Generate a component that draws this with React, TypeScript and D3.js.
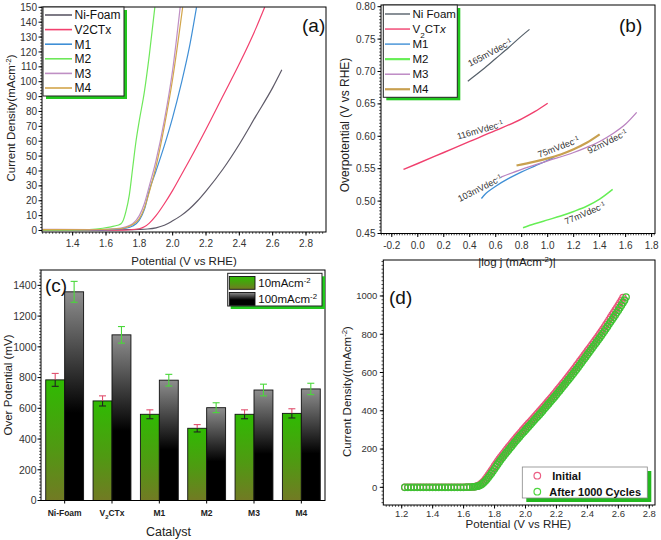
import React from "react";
import * as d3 from "d3";

const FONT = "'Liberation Sans', Arial, Helvetica, sans-serif";

// ---------------- Panel (a): LSV curves ----------------
const A_NAMES = ["Ni-Foam", "V2CTx", "M1", "M2", "M3", "M4"];
const A_COLORS = ["#5e5a68", "#f2406e", "#3f8fd6", "#6ee85a", "#bf8fc4", "#d2a64c"];
const A_NI_X = [1.22, 1.3, 1.4, 1.5, 1.6, 1.7, 1.8, 1.85, 1.9, 1.95, 2.0, 2.05, 2.1, 2.15, 2.2, 2.3, 2.4, 2.5, 2.6, 2.655];
const A_NI_Y = [0.6, 0.4, 0.3, 0.3, 0.4, 0.5, 0.7, 1.0, 1.8, 3.5, 6.5, 10, 14.5, 20, 26.5, 41, 58, 77, 96, 108];
const A_V_X = [1.22, 1.4, 1.6, 1.7, 1.75, 1.8, 1.83, 1.86, 1.9, 1.95, 2.0, 2.05, 2.1, 2.2, 2.3, 2.4, 2.5, 2.552];
const A_V_Y = [0.3, 0.2, 0.2, 0.3, 0.5, 1.2, 2.5, 5, 10, 18, 27, 37, 47, 68, 90, 112, 136, 150];
const A_M1_X = [1.22, 1.5, 1.65, 1.72, 1.76, 1.8, 1.83, 1.86, 1.9, 1.95, 2.0, 2.05, 2.1, 2.143];
const A_M1_Y = [0.5, 0.4, 0.8, 1.5, 3, 7, 14, 27, 40, 57, 76, 98, 123, 150];
const A_M2_X = [1.22, 1.4, 1.5, 1.58, 1.63, 1.67, 1.69, 1.7, 1.72, 1.74, 1.76, 1.78, 1.8, 1.83, 1.86, 1.893];
const A_M2_Y = [0.3, 0.3, 0.6, 1.5, 2.5, 3.5, 4.5, 6, 13, 24, 42, 60, 74, 93, 118, 150];
const A_M3_X = [1.22, 1.5, 1.65, 1.72, 1.76, 1.8, 1.83, 1.86, 1.9, 1.95, 2.0, 2.045];
const A_M3_Y = [0.8, 0.6, 1.2, 2.5, 4.5, 10, 18, 30, 47, 74, 108, 150];
const A_M4_X = [1.22, 1.5, 1.65, 1.72, 1.76, 1.8, 1.83, 1.86, 1.9, 1.95, 2.0, 2.06];
const A_M4_Y = [0.6, 0.5, 1, 2, 4, 8, 15, 26, 43, 70, 102, 150];
const A_X_TICKS = [1.4, 1.6, 1.8, 2.0, 2.2, 2.4, 2.6, 2.8];
const A_Y_TICKS = [0, 10, 20, 30, 40, 50, 60, 70, 80, 90, 100, 110, 120, 130, 140, 150];

// ---------------- Panel (b): Tafel ----------------
const B_NAMES = ["Ni Foam", "V2CTx", "M1", "M2", "M3", "M4"];
const B_COLORS = ["#56606a", "#f0406e", "#3f8fd6", "#66ee55", "#b982c0", "#c8a050"];
const B_NI_X = [0.385, 0.5, 0.6, 0.7, 0.8, 0.86];
const B_NI_Y = [0.685, 0.703, 0.72, 0.737, 0.755, 0.765];
const B_V_X = [-0.11, 0.0, 0.2, 0.4, 0.6, 0.8, 0.9, 1.0];
const B_V_Y = [0.549, 0.558, 0.575, 0.592, 0.609, 0.627, 0.638, 0.651];
const B_M1_X = [0.49, 0.52, 0.55, 0.6, 0.7, 0.8, 0.9, 1.0, 1.05];
const B_M1_Y = [0.504, 0.511, 0.516, 0.523, 0.535, 0.545, 0.554, 0.563, 0.568];
const B_M2_X = [0.81, 0.9, 1.0, 1.1, 1.2, 1.3, 1.4, 1.5];
const B_M2_Y = [0.459, 0.465, 0.471, 0.477, 0.484, 0.492, 0.503, 0.518];
const B_M3_X = [0.64, 0.8, 1.0, 1.2, 1.3, 1.4, 1.5, 1.6, 1.685];
const B_M3_Y = [0.537, 0.549, 0.562, 0.575, 0.583, 0.592, 0.604, 0.619, 0.637];
const B_M4_X = [0.76, 0.9, 1.0, 1.1, 1.2, 1.3, 1.4];
const B_M4_Y = [0.555, 0.561, 0.566, 0.572, 0.58, 0.59, 0.603];
const B_SLOPES = ["165", "116", "75", "92", "103", "77"];
const B_X_TICKS = [-0.2, 0.0, 0.2, 0.4, 0.6, 0.8, 1.0, 1.2, 1.4, 1.6, 1.8];
const B_Y_TICKS = [0.45, 0.5, 0.55, 0.6, 0.65, 0.7, 0.75, 0.8];

// ---------------- Panel (c): bars ----------------
const C_CATS = ["Ni-Foam", "V2CTx", "M1", "M2", "M3", "M4"];
const C_10 = [785, 648, 561, 470, 561, 567];
const C_10_ERR = [42, 33, 29, 24, 29, 30];
const C_100 = [1358, 1078, 783, 604, 719, 726];
const C_100_ERR = [68, 54, 38, 32, 38, 37];
const C_Y_TICKS = [0, 200, 400, 600, 800, 1000, 1200, 1400];

// ---------------- Panel (d): stability ----------------
const D_FLAT_X = [1.22, 1.24, 1.26, 1.28, 1.30, 1.32, 1.34, 1.36, 1.38, 1.40, 1.42, 1.44, 1.46, 1.48, 1.50, 1.52, 1.54, 1.56, 1.58, 1.60, 1.62, 1.64];
const D_FLAT_Y = [0, 0, 0, 0, 0, 0, 0, 0, 0, 0, 0, 0, 0, 0, 0, 0, 0, 0, 0, 0, 1, 1];
const D_RISE_X = [
  1.66, 1.67, 1.68, 1.69, 1.70, 1.71, 1.72, 1.73, 1.74, 1.75,
  1.76, 1.77, 1.78, 1.79, 1.80, 1.81, 1.82, 1.83, 1.84, 1.85,
  1.86, 1.87, 1.88, 1.89, 1.90, 1.91, 1.92, 1.93, 1.94, 1.95,
  1.96, 1.97, 1.98, 1.99, 2.00, 2.01, 2.02, 2.03, 2.04, 2.05,
  2.06, 2.07, 2.08, 2.09, 2.10, 2.11, 2.12, 2.13, 2.14, 2.15,
  2.16, 2.17, 2.18, 2.19, 2.20, 2.21, 2.22, 2.23, 2.24, 2.25,
  2.26, 2.27, 2.28, 2.29, 2.30, 2.31, 2.32, 2.33, 2.34, 2.35,
  2.36, 2.37, 2.38, 2.39, 2.40, 2.41, 2.42, 2.43, 2.44, 2.45,
  2.46, 2.47, 2.48, 2.49, 2.50, 2.51, 2.52, 2.53, 2.54, 2.55,
  2.56, 2.57, 2.58, 2.59, 2.60, 2.61, 2.62, 2.63, 2.64, 2.65,
];
const D_INIT_RISE_Y = [
  2, 3, 5, 7, 11, 17, 24, 32, 42, 53,
  64, 76, 88, 100, 112, 124, 136, 147.5, 158.5, 169,
  179.5, 190, 200, 210, 220, 230, 240, 250, 259.5, 269,
  278.5, 288, 297.5, 307, 316, 325, 334, 343, 352, 361,
  370, 379, 388, 397, 406, 415, 425, 434, 444, 453,
  463, 472, 482, 492, 502, 512, 522, 532, 542, 552,
  562, 572, 583, 593, 604, 614, 625, 636, 647, 658,
  669, 680, 691, 702, 713, 724, 735, 746, 757, 768,
  779, 790, 802, 814, 826, 838, 851, 863, 876, 888,
  901, 913, 926, 938, 951, 964, 977, 992,
];
const D_AFTER_RISE_Y = [
  2, 3, 4, 6, 8, 12, 18, 25, 33, 42,
  52, 63, 74, 85, 97, 109, 121, 132.5, 143.5, 154,
  164.5, 175, 185, 195, 205, 215, 225, 235, 244.5, 254,
  263.5, 273, 282, 291, 300, 309, 318, 327, 336, 345,
  354, 363, 372, 381, 390, 399, 409, 418, 428, 437,
  447, 456, 466, 475, 485, 495, 505, 515, 525, 535,
  545, 555, 565, 575, 586, 596, 607, 617, 628, 639,
  650, 661, 672, 683, 694, 705, 716, 727, 738, 749,
  760, 771, 782, 793, 805, 817, 829, 841, 853, 865,
  877, 889, 901, 913, 926, 939, 952, 965, 978, 994,
];
const D_X_TICKS = [1.2, 1.4, 1.6, 1.8, 2.0, 2.2, 2.4, 2.6, 2.8];
const D_Y_TICKS = [0, 200, 400, 600, 800, 1000];

type Sc = (v: number) => number;

function minorRange(lo: number, hi: number, step: number): number[] {
  const a = Math.ceil(lo / step - 1e-9);
  const b = Math.floor(hi / step + 1e-9);
  return d3.range(a, b + 1).map((i) => +(i * step).toFixed(6));
}

function pairs(xs: number[], ys: number[]): [number, number][] {
  const n = Math.min(xs.length, ys.length);
  return d3.range(n).map((i) => [xs[i], ys[i]] as [number, number]);
}

function LeftAxis(p: { x: number; scale: Sc; ticks: number[]; labels: string[]; minor: number[]; fs: number; off: number }) {
  const { x, scale, ticks, labels, minor, fs, off } = p;
  return (
    <g>
      {minor.map((v, i) => (
        <line key={"m" + i} x1={x} x2={x - 1.8} y1={scale(v)} y2={scale(v)} stroke="#000" strokeWidth={0.7} />
      ))}
      {ticks.map((v, i) => (
        <line key={"t" + i} x1={x} x2={x - 3.5} y1={scale(v)} y2={scale(v)} stroke="#000" strokeWidth={1} />
      ))}
      {ticks.map((v, i) => (
        <text key={"l" + i} x={x - off} y={scale(v)} dy="0.36em" textAnchor="end" fontSize={fs} fill="#333">
          {labels[i]}
        </text>
      ))}
    </g>
  );
}

function BottomAxis(p: { y: number; scale: Sc; ticks: number[]; labels: string[]; minor: number[]; fs: number; off: number }) {
  const { y, scale, ticks, labels, minor, fs, off } = p;
  return (
    <g>
      {minor.map((v, i) => (
        <line key={"m" + i} x1={scale(v)} x2={scale(v)} y1={y} y2={y + 1.8} stroke="#000" strokeWidth={0.7} />
      ))}
      {ticks.map((v, i) => (
        <line key={"t" + i} x1={scale(v)} x2={scale(v)} y1={y} y2={y + 3.5} stroke="#000" strokeWidth={1} />
      ))}
      {ticks.map((v, i) => (
        <text key={"l" + i} x={scale(v)} y={y + off} textAnchor="middle" fontSize={fs} fill="#333">
          {labels[i]}
        </text>
      ))}
    </g>
  );
}

function path(xs: number[], ys: number[], sx: Sc, sy: Sc) {
  return d3
    .line<[number, number]>()
    .x((d) => sx(d[0]))
    .y((d) => sy(d[1]))
    .curve(d3.curveMonotoneX)(pairs(xs, ys)) as string;
}

function V2(props: { italicX?: boolean }) {
  return (
    <>
      V<tspan baselineShift="sub" fontSize="70%">2</tspan>
      <tspan>CT</tspan>
      {props.italicX ? <tspan fontStyle="italic">x</tspan> : <tspan>x</tspan>}
    </>
  );
}

export default function App() {
  // ---- (a)
  const aX = d3.scaleLinear().domain([1.216, 2.92]).range([42, 326]);
  const aY = d3.scaleLinear().domain([-1, 150.2]).range([232, 7]);
  const aSeries = [
    [A_NI_X, A_NI_Y],
    [A_V_X, A_V_Y],
    [A_M1_X, A_M1_Y],
    [A_M2_X, A_M2_Y],
    [A_M3_X, A_M3_Y],
    [A_M4_X, A_M4_Y],
  ];
  // ---- (b)
  const bX = d3.scaleLinear().domain([-0.283, 1.826]).range([381, 655]);
  const bY = d3.scaleLinear().domain([0.45, 0.8026]).range([233.5, 5]);
  const bSeries = [
    [B_NI_X, B_NI_Y],
    [B_V_X, B_V_Y],
    [B_M1_X, B_M1_Y],
    [B_M2_X, B_M2_Y],
    [B_M3_X, B_M3_Y],
    [B_M4_X, B_M4_Y],
  ];
  const bWidths = [1.2, 1.4, 1.3, 1.5, 1.3, 2.2];
  const bAnn = [
    { x: 490, y: 52.7, r: -28 },
    { x: 480, y: 130, r: -16 },
    { x: 558.5, y: 147, r: -21 },
    { x: 607.3, y: 141.7, r: -26 },
    { x: 480, y: 188.3, r: -27 },
    { x: 585, y: 213.3, r: -23 },
  ];
  // ---- (c)
  const cX = d3.scaleBand<string>().domain(C_CATS).range([41, 325]).paddingInner(0.2).paddingOuter(0.1);
  const cY = d3.scaleLinear().domain([0, 1500]).range([500.5, 270]);
  const bw = cX.bandwidth() / 2;
  // ---- (d)
  const dX = d3.scaleLinear().domain([1.081, 2.837]).range([383.3, 655]);
  const dY = d3.scaleLinear().domain([-92.4, 1188]).range([505, 260]);
  const dInit = [...pairs(D_FLAT_X, D_FLAT_Y), ...pairs(D_RISE_X, D_INIT_RISE_Y)];
  const dAfter = [...pairs(D_FLAT_X, D_FLAT_Y), ...pairs(D_RISE_X, D_AFTER_RISE_Y)];

  const sup = (t: string) => (
    <tspan baselineShift="super" fontSize="68%">
      {t}
    </tspan>
  );

  return (
    <svg width={661} height={540} style={{ position: "absolute", left: 0, top: 0, background: "#fff" }} fontFamily={FONT}>
      <defs>
        <clipPath id="clipA">
          <rect x={42} y={7} width={284} height={225} />
        </clipPath>
        <clipPath id="clipB">
          <rect x={381} y={5} width={274} height={228.5} />
        </clipPath>
        <linearGradient id="gGreen" x1="0" y1="0" x2="0" y2="1">
          <stop offset="0%" stopColor="#2fbb02" />
          <stop offset="55%" stopColor="#4f9a12" />
          <stop offset="100%" stopColor="#727a24" />
        </linearGradient>
        <linearGradient id="gBlack" x1="0" y1="0" x2="0" y2="1">
          <stop offset="0%" stopColor="#8e8e8e" />
          <stop offset="58%" stopColor="#000" />
          <stop offset="100%" stopColor="#000" />
        </linearGradient>
      </defs>
      <rect x={0} y={0} width={661} height={540} fill="#fff" />

      {/* ================= (a) ================= */}
      <g>
        <g clipPath="url(#clipA)">
          {aSeries.map((s, i) => (
            <path key={i} d={path(s[0], s[1], aX, aY)} fill="none" stroke={A_COLORS[i]} strokeWidth={1.2} />
          ))}
        </g>
        <rect x={42} y={7} width={284} height={225} fill="none" stroke="#000" strokeWidth={1} />
        <LeftAxis x={42} scale={aY} ticks={A_Y_TICKS} labels={A_Y_TICKS.map(String)} minor={minorRange(0, 150, 2)} fs={10} off={5} />
        <BottomAxis y={232} scale={aX} ticks={A_X_TICKS} labels={A_X_TICKS.map((v) => v.toFixed(1))} minor={minorRange(1.22, 2.9, 0.02)} fs={10} off={15} />
        <text transform="translate(15,118) rotate(-90)" textAnchor="middle" fontSize={11.5} fill="#222">
          Current Density(mAcm{sup("-2")})
        </text>
        <text x={184} y={264.5} textAnchor="middle" fontSize={11.5} fill="#222">
          Potential (V vs RHE)
        </text>
        <text x={302} y={32} fontSize={19} fill="#111">
          (a)
        </text>
        {/* legend */}
        <rect x={46} y={10} width={81} height={89} fill="#22c81e" />
        <rect x={43} y={7} width={81} height={89} fill="#fff" stroke="#222" strokeWidth={1} />
        {A_NAMES.map((n, i) => {
          const y = 15 + i * 14.6;
          return (
            <g key={n}>
              <line x1={45} x2={72} y1={y} y2={y} stroke={A_COLORS[i]} strokeWidth={1.6} />
              <text x={74.5} y={y + 4.3} fontSize={12} fill="#111">
                {n}
              </text>
            </g>
          );
        })}
      </g>

      {/* ================= (b) ================= */}
      <g>
        <g clipPath="url(#clipB)">
          {bSeries.map((s, i) => (
            <path key={i} d={path(s[0], s[1], bX, bY)} fill="none" stroke={B_COLORS[i]} strokeWidth={bWidths[i]} />
          ))}
        </g>
        <rect x={381} y={5} width={274} height={228.5} fill="none" stroke="#000" strokeWidth={1} />
        <LeftAxis x={381} scale={bY} ticks={B_Y_TICKS} labels={B_Y_TICKS.map((v) => v.toFixed(2))} minor={minorRange(0.45, 0.8, 0.005)} fs={10} off={5.5} />
        <BottomAxis y={233.5} scale={bX} ticks={B_X_TICKS} labels={B_X_TICKS.map((v) => v.toFixed(1))} minor={minorRange(-0.28, 1.82, 0.02)} fs={10} off={15} />
        <text transform="translate(349,125) rotate(-90)" textAnchor="middle" fontSize={12} fill="#222">
          Overpotential (V vs RHE)
        </text>
        <text x={517} y={265.5} textAnchor="middle" fontSize={11.5} fill="#222">
          |log j (mAcm{sup("-2")})|
        </text>
        <text x={619} y={32} fontSize={19} fill="#111">
          (b)
        </text>
        {bAnn.map((a, i) => (
          <text key={i} transform={`translate(${a.x},${a.y}) rotate(${a.r})`} textAnchor="middle" dy="0.35em" fontSize={9} fill="#333">
            {B_SLOPES[i]}mVdec{sup("-1")}
          </text>
        ))}
        {/* legend */}
        <rect x={386.3} y={8} width={74} height={92.3} fill="#22c81e" />
        <rect x={383.3} y={5} width={74} height={92.3} fill="#fff" stroke="#222" strokeWidth={1} />
        {B_NAMES.map((n, i) => {
          const y = 14 + i * 15.05;
          return (
            <g key={n}>
              <line x1={385} x2={410} y1={y} y2={y} stroke={B_COLORS[i]} strokeWidth={i === 3 || i === 5 ? 2.2 : 1.4} />
              <text x={412.5} y={y + 4.2} fontSize={11.5} fill="#111">
                {i === 1 ? <V2 italicX /> : n}
              </text>
            </g>
          );
        })}
      </g>

      {/* ================= (c) ================= */}
      <g>
        {C_CATS.map((c, i) => {
          const x0 = cX(c)!;
          return (
            <g key={c}>
              <rect x={x0} y={cY(C_10[i])} width={bw} height={cY(0) - cY(C_10[i])} fill="url(#gGreen)" stroke="#111" strokeWidth={0.9} />
              <rect x={x0 + bw} y={cY(C_100[i])} width={bw} height={cY(0) - cY(C_100[i])} fill="url(#gBlack)" stroke="#111" strokeWidth={0.9} />
            </g>
          );
        })}
        {C_CATS.map((c, i) => {
          const cx1 = cX(c)! + bw / 2;
          const cx2 = cX(c)! + bw * 1.5;
          const t1 = cY(C_10[i] + C_10_ERR[i]);
          const m1 = cY(C_10[i]);
          const b1 = cY(C_10[i] - C_10_ERR[i]);
          const t2 = cY(C_100[i] + C_100_ERR[i]);
          const b2 = cY(C_100[i] - C_100_ERR[i]);
          return (
            <g key={"e" + c}>
              <line x1={cx1} x2={cx1} y1={t1} y2={m1} stroke="#e0506e" strokeWidth={1.1} />
              <line x1={cx1 - 3.5} x2={cx1 + 3.5} y1={t1} y2={t1} stroke="#e0506e" strokeWidth={1.1} />
              <line x1={cx1} x2={cx1} y1={m1} y2={b1} stroke="#222" strokeWidth={1.1} />
              <line x1={cx1 - 3.5} x2={cx1 + 3.5} y1={b1} y2={b1} stroke="#222" strokeWidth={1.1} />
              <line x1={cx2} x2={cx2} y1={t2} y2={b2} stroke="#4ad83a" strokeWidth={1.1} />
              <line x1={cx2 - 3.5} x2={cx2 + 3.5} y1={t2} y2={t2} stroke="#4ad83a" strokeWidth={1.1} />
              <line x1={cx2 - 3.5} x2={cx2 + 3.5} y1={b2} y2={b2} stroke="#4ad83a" strokeWidth={1.1} />
            </g>
          );
        })}
        <rect x={41} y={270} width={284} height={230.5} fill="none" stroke="#000" strokeWidth={1} />
        <LeftAxis x={41} scale={cY} ticks={C_Y_TICKS} labels={C_Y_TICKS.map(String)} minor={minorRange(0, 1500, 20)} fs={10.5} off={4.5} />
        {C_CATS.map((c, i) => {
          const cx = cX(c)! + bw;
          return (
            <g key={"x" + c}>
              <line x1={cx} x2={cx} y1={500.5} y2={503.5} stroke="#000" strokeWidth={1} />
              <text x={cx} y={515.5} textAnchor="middle" fontSize={8.5} fontWeight="bold" fill="#222">
                {i === 1 ? <V2 /> : c}
              </text>
            </g>
          );
        })}
        <text transform="translate(12,385) rotate(-90)" textAnchor="middle" fontSize={11.5} fill="#222">
          Over Potential (mV)
        </text>
        <text x={168.5} y={536} textAnchor="middle" fontSize={12.5} fill="#222">
          Catalyst
        </text>
        <text x={45} y={292} fontSize={19} fill="#111">
          (c)
        </text>
        {/* legend */}
        <rect x={230.7} y={276.3} width={94.3} height={32.7} fill="#22c81e" />
        <rect x={227.7} y={273.3} width={94.3} height={32.7} fill="#fff" stroke="#222" strokeWidth={1} />
        <rect x={229.3} y={276.5} width={25.7} height={12.8} fill="url(#gGreen)" stroke="#111" strokeWidth={0.9} />
        <rect x={229.3} y={292.5} width={25.7} height={12.8} fill="url(#gBlack)" stroke="#111" strokeWidth={0.9} />
        <text x={258.3} y={287.3} fontSize={11.5} fill="#111">
          10mAcm{sup("-2")}
        </text>
        <text x={258.3} y={303.1} fontSize={11.5} fill="#111">
          100mAcm{sup("-2")}
        </text>
      </g>

      {/* ================= (d) ================= */}
      <g>
        {dInit.map((d, i) => (
          <circle key={"r" + i} cx={dX(d[0])} cy={dY(d[1])} r={3.2} fill="none" stroke="#e8557c" strokeWidth={1.2} />
        ))}
        {dAfter.map((d, i) => (
          <circle key={"g" + i} cx={dX(d[0])} cy={dY(d[1])} r={3.2} fill="none" stroke="#3fc232" strokeWidth={1.3} />
        ))}
        <rect x={383.3} y={260} width={271.7} height={245} fill="none" stroke="#000" strokeWidth={1} />
        <LeftAxis x={383.3} scale={dY} ticks={D_Y_TICKS} labels={D_Y_TICKS.map(String)} minor={minorRange(-80, 1180, 20)} fs={9.5} off={6} />
        <BottomAxis y={505} scale={dX} ticks={D_X_TICKS} labels={D_X_TICKS.map((v) => v.toFixed(1))} minor={minorRange(1.1, 2.82, 0.02)} fs={9.5} off={11.8} />
        <text transform="translate(351,391.5) rotate(-90)" textAnchor="middle" fontSize={11.5} fill="#222">
          Current Density((mAcm{sup("-2")})
        </text>
        <text x={518.3} y={528} textAnchor="middle" fontSize={11.5} fill="#222">
          Potential (V vs RHE)
        </text>
        <text x={389} y={304} fontSize={19} fill="#111">
          (d)
        </text>
        {/* legend */}
        <rect x={526.3} y={471} width={125} height={31} fill="#22b81e" />
        <rect x={522.3} y={467} width={125} height={31} fill="#fff" stroke="#888" strokeWidth={0.8} />
        <circle cx={537.3} cy={475.7} r={3.3} fill="none" stroke="#ec5f84" strokeWidth={1.2} />
        <text x={552.3} y={479.7} fontSize={11} fontWeight="bold" fill="#111">
          Initial
        </text>
        <circle cx={537.3} cy={491.7} r={3.3} fill="none" stroke="#4fd640" strokeWidth={1.2} />
        <text x={549.3} y={495.7} fontSize={11} fontWeight="bold" fill="#111">
          After 1000 Cycles
        </text>
      </g>
    </svg>
  );
}
